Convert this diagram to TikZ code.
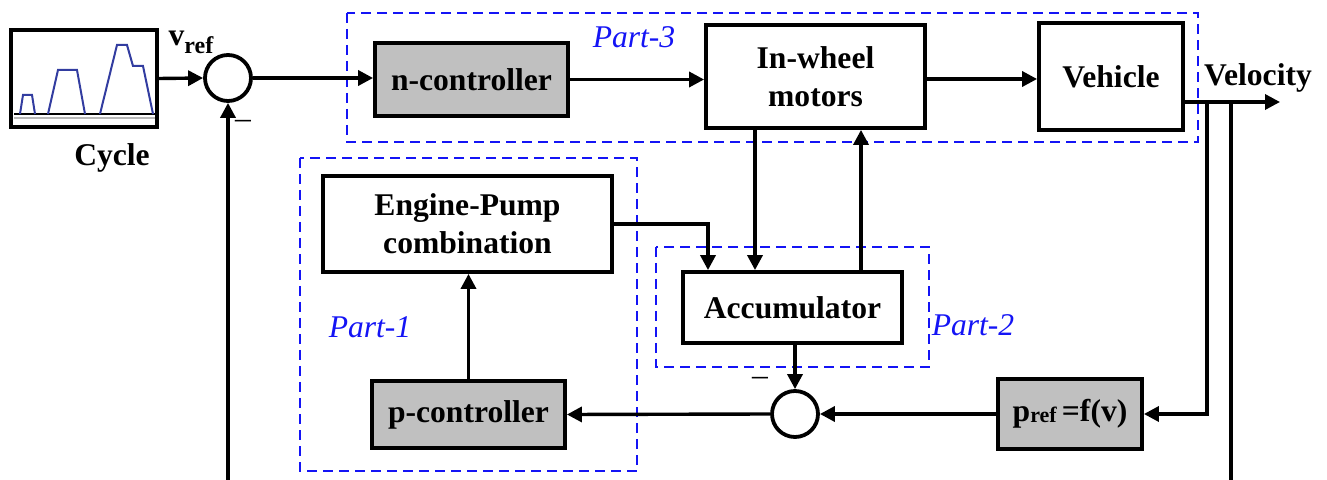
\documentclass[tikz,border=0pt]{standalone}
\usepackage{fontspec}
\setmainfont{Liberation Serif}
\usetikzlibrary{arrows.meta}
\definecolor{boxgray}{RGB}{192,192,192}
\definecolor{partblue}{RGB}{20,20,245}
\definecolor{wave}{RGB}{50,60,160}
\begin{document}
\begin{tikzpicture}[x=0.5pt,y=-0.5pt,
  blk/.style={draw, line width=1.9pt, inner sep=0pt, align=center,
    font=\bfseries\fontsize{15.8}{19}\selectfont},
  gblk/.style={blk, fill=boxgray},
  sumj/.style={circle, draw, line width=1.9pt, inner sep=0pt, minimum size=23pt},
  partbox/.style={draw=partblue, line width=1pt, dash pattern=on 5pt off 3pt},
  partlbl/.style={text=partblue, font=\itshape\fontsize{15.8}{19}\selectfont, inner sep=0pt},
  lbl/.style={font=\bfseries\fontsize{15.8}{19}\selectfont, inner sep=0pt},
  conn/.style={line width=1.7pt, -{Triangle[length=7.5pt,width=7.5pt]}},
  plain/.style={line width=1.7pt}]
\useasboundingbox (0,0) rectangle (1327,480);

% dashed part boxes
\draw[partbox] (347,13) rectangle (1198,142);
\draw[partbox] (300,158) rectangle (637,471);
\draw[partbox] (656,247) rectangle (929,367);

% blocks
\node[blk, minimum width=73pt, minimum height=48.5pt] (cyc) at (84,78.5) {};
\node[sumj] (s1) at (228,78) {};
\node[gblk, minimum width=96.5pt, minimum height=36.5pt] (nc) at (471.5,79.5) {n-controller};
\node[blk, minimum width=109.5pt, minimum height=51.5pt] (iw) at (815.5,76.5) {In-wheel\\motors};
\node[blk, minimum width=72pt, minimum height=53.5pt] (veh) at (1111,76.5) {Vehicle};
\node[blk, minimum width=144.5pt, minimum height=48pt] (ep) at (467.5,224) {Engine-Pump\\combination};
\node[gblk, minimum width=96.5pt, minimum height=33.5pt] (pc) at (468.5,414.5) {p-controller};
\node[blk, minimum width=109.5pt, minimum height=35.5pt] (acc) at (792.5,307.5) {Accumulator};
\node[sumj] (s2) at (795,414) {};
\node[gblk, minimum width=72pt, minimum height=35pt] (pref) at (1070,414)
  {p\raisebox{-0.5pt}{\fontsize{11}{12}\selectfont ref}\,=f(v)};

% waveform inside cycle box
\draw[gray!55, line width=1pt] (14,118) -- (155,118);
\draw[black, line width=1pt] (14,114) -- (155,114);
\draw[wave, line width=1pt] (20,114) -- (23,95) -- (32,95) -- (35,114)
  (48,114) -- (58,70) -- (77,70) -- (85,114)
  (100,114) -- (117,45) -- (127,45) -- (133,66) -- (143,66) -- (153,114);

% labels
\node[lbl] (vref) at (191,42) {v\raisebox{-4pt}{\fontsize{12}{13}\selectfont ref}};
\node[lbl] (cyclbl) at (112,158) {Cycle};
\node[lbl] (vel) at (1258,78) {Velocity};
\node[font=\fontsize{15.8}{19}\selectfont, inner sep=0pt] (m1) at (243,124) {\textendash};
\node[font=\fontsize{15.8}{19}\selectfont, inner sep=0pt] (m2) at (760,381) {\textendash};
\node[partlbl] (p3) at (634,37) {Part-3};
\node[partlbl] (p1) at (370,327) {Part-1};
\node[partlbl] (p2) at (973,325) {Part-2};

% helper coordinates
\coordinate (vout) at (1280,102);
\coordinate (ta) at (1207,102);
\coordinate (tb) at (1231,102);
\coordinate (bb) at (1231,480);
\coordinate (fb) at (228,480);
\coordinate (d1) at (755,0);
\coordinate (d2) at (861,0);
\coordinate (d3) at (708,0);

% connectors
\draw[conn] (cyc.east) -- (s1.west);
\draw[conn] (s1.east) -- (s1.east -| nc.west);
\draw[conn] (nc.east) -- (nc.east -| iw.west);
\draw[conn] ([yshift=-1.25pt]iw.east) -- ([yshift=-1.25pt]iw.east -| veh.west);
\draw[conn] (veh.east |- vout) -- (vout);
\draw[conn] (ta) |- (pref.east);
\draw[plain] (tb) -- (bb);
\draw[conn] (fb) -- (s1.south);
\draw[conn] (pref.west) -- (s2.east);
\draw[conn] (s2.west) -- (pc.east);
\draw[conn] (s2.north |- acc.south) -- (s2.north);
\draw[conn] (iw.south -| d1) -- (acc.north -| d1);
\draw[conn] (acc.north -| d2) -- (iw.south -| d2);
\draw[conn] (ep.east) -| (acc.north -| d3);
\draw[conn] (pc.north) -- (pc.north |- ep.south);
\end{tikzpicture}
\end{document}
